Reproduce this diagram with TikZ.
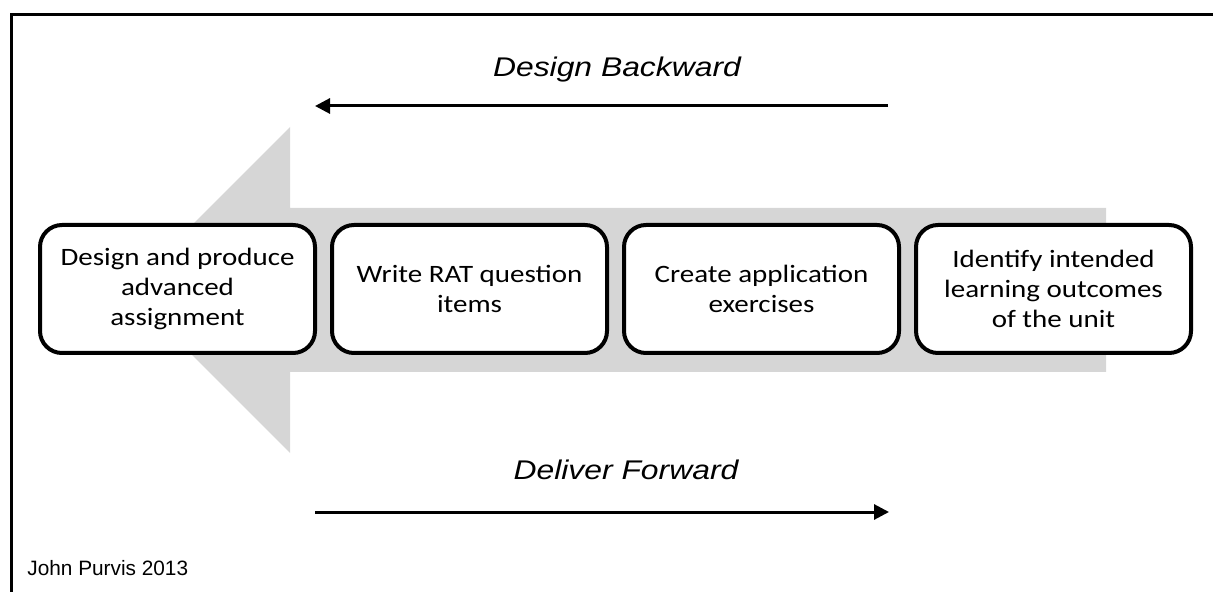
\documentclass[tikz,border=0pt]{standalone}
\usepackage{fontspec}
\setmainfont[FakeStretch=1.16]{Carlito}
\newfontfamily\headfont[FakeStretch=1.18]{Liberation Sans}
\newfontfamily\creditfont{Liberation Sans}
\usetikzlibrary{arrows.meta,positioning}
\definecolor{arrowgrey}{RGB}{214,214,214}

\begin{document}
\begin{tikzpicture}[x=0.5pt,y=-0.5pt,>={Triangle[length=7.5pt,width=7.5pt]},
    stage/.style={draw, line width=2pt, rounded corners=11pt, fill=white,
        minimum width=137.5pt, minimum height=64pt, align=center,
        font=\fontsize{12.5}{15}\selectfont},
    heading/.style={font=\headfont\itshape\fontsize{13.5}{16}\selectfont}]

    \useasboundingbox (0,0) rectangle (1213,592);

    % frame, only top and left edge show
    \draw[line width=1.5pt] (11,600) -- (11,15) -- (1220,15);

    % big grey arrow behind the stages
    \fill[arrowgrey] (1106,208) -- (290,208) -- (290,127) -- (127,290)
        -- (290,453) -- (290,372) -- (1106,372) -- cycle;

    \node[stage] (assign) at (177.5,289) {Design and produce\\advanced\\assignment};
    \node[stage, right=6.5pt of assign] (rat) {Write RAT question\\items};
    \node[stage, right=6.5pt of rat] (apply) {Create application\\exercises};
    \node[stage, right=6.5pt of apply] (outcomes) {Identify intended\\learning outcomes\\of the unit};

    \node[heading] (backward) at (617,70) {Design Backward};
    \coordinate (backstart) at (888,106);
    \coordinate (backend) at (315,106);
    \draw[line width=1.5pt,->] (backstart) -- (backend);

    \node[heading] (forward) at (626,470) {Deliver Forward};
    \coordinate (forstart) at (315,512);
    \coordinate (forend) at (889,512);
    \draw[line width=1.5pt,->] (forstart) -- (forend);

    \node[font=\creditfont\fontsize{10.4}{12}\selectfont, anchor=base west, inner sep=0pt] (credit) at (27,575) {John Purvis 2013};
\end{tikzpicture}
\end{document}
